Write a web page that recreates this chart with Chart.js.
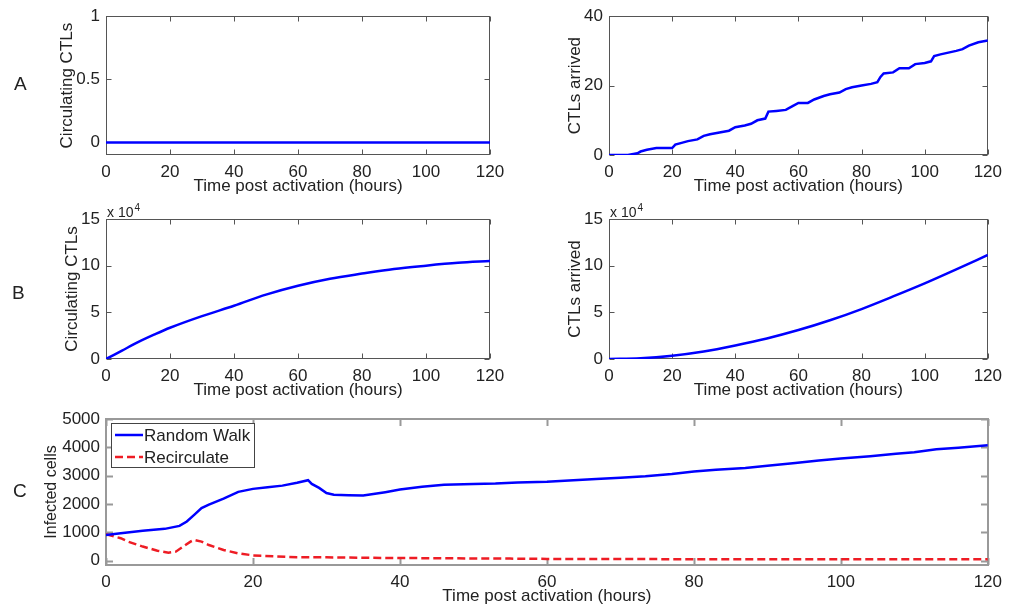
<!DOCTYPE html>
<html>
<head>
<meta charset="utf-8">
<script src="https://cdn.jsdelivr.net/npm/chart.js@4.4.1/dist/chart.umd.min.js"></script>
<style>
body { margin: 0; background: #fff; }
#wrap { position: relative; width: 1009px; height: 605px; font-family: "Liberation Sans", Arial, sans-serif; color: #222; }
#wrap canvas { position: absolute; left: 0; top: 0; }
.panel { position: absolute; font-size: 19px; line-height: 22px; }
</style>
</head>
<body>
<div id="wrap">
  <canvas id="plotA1" width="1009" height="605"></canvas>
  <canvas id="plotA2" width="1009" height="605"></canvas>
  <canvas id="plotB1" width="1009" height="605"></canvas>
  <canvas id="plotB2" width="1009" height="605"></canvas>
  <canvas id="plotC" width="1009" height="605"></canvas>
  <div class="panel" style="left:14px;top:73px">A</div>
  <div class="panel" style="left:12px;top:282px">B</div>
  <div class="panel" style="left:13px;top:480px">C</div>
</div>
<script>
// ---- data ----
var hourTicks = [0, 20, 40, 60, 80, 100, 120];

// A, left: circulating CTLs (stays at zero)
var circA_t = [0, 120];
var circA_v = [0, 0];
var circA_ticks = [0, 0.5, 1];

// A, right: CTLs arrived
var arrA_t = [0, 6, 9, 10, 12, 15, 20, 21, 23, 25, 28, 30, 32, 35, 38, 40, 43, 45, 47, 49.5, 50.5, 53, 56, 58, 60, 63, 65, 68, 70, 73, 75, 77, 80, 83, 85, 86, 87, 90, 92, 95, 97, 100, 102, 103, 105, 110, 112, 114, 117, 120];
var arrA_v = [0, 0, 0.5, 1, 1.5, 2, 2, 3, 3.5, 4, 4.5, 5.5, 6, 6.5, 7, 8, 8.5, 9, 10, 10.5, 12.5, 12.7, 13, 14, 15, 15, 16, 17, 17.5, 18, 19, 19.5, 20, 20.5, 21, 22.5, 23.5, 23.8, 25, 25, 26.2, 26.5, 27, 28.5, 29, 30, 30.5, 31.5, 32.5, 33];
var arrA_ticks = [0, 20, 40];

// B (values in units of 10^4)
var circB_t = [0, 5, 10, 15, 20, 30, 40, 50, 60, 70, 80, 90, 100, 110, 120];
var circB_v = [0, 0.9, 1.8, 2.6, 3.35, 4.6, 5.7, 6.9, 7.85, 8.6, 9.15, 9.65, 10.0, 10.3, 10.5];
var arrB_t = [0, 10, 20, 30, 40, 50, 60, 70, 80, 90, 100, 110, 120];
var arrB_v = [0, 0.08, 0.35, 0.8, 1.45, 2.2, 3.1, 4.15, 5.35, 6.7, 8.1, 9.6, 11.15];
var bTicks = [0, 5, 10, 15];

// C: infected cells
var walk_t = [0, 2, 5, 8, 10, 11, 12, 13, 14, 16, 18, 20, 22, 24, 26, 27.5, 28, 29, 30, 31, 33, 35, 38, 40, 43, 46, 50, 53, 56, 60, 63, 66.7, 70, 73.4, 77, 80, 83, 87, 90, 93.8, 97, 100, 104, 107.5, 110, 113, 116, 120];
var walk_v = [910, 970, 1055, 1125, 1230, 1385, 1620, 1860, 1980, 2190, 2430, 2535, 2595, 2650, 2750, 2840, 2710, 2570, 2390, 2330, 2310, 2300, 2420, 2510, 2610, 2680, 2710, 2725, 2760, 2790, 2830, 2880, 2930, 2980, 3060, 3150, 3210, 3270, 3350, 3450, 3540, 3610, 3690, 3770, 3830, 3930, 3990, 4070];
var recirc_t = [0, 2, 3, 5, 7, 8.5, 9.5, 10.5, 11.5, 12, 13, 14, 16, 18, 20, 23, 26, 30, 35, 40, 45, 50, 55, 60, 70, 80, 90, 100, 110, 120];
var recirc_v = [935, 795, 675, 500, 355, 285, 320, 500, 675, 735, 675, 555, 380, 260, 190, 155, 120, 120, 105, 95, 90, 80, 75, 65, 60, 55, 55, 55, 50, 50];
var cTicks = [0, 1000, 2000, 3000, 4000, 5000];

// ---- helpers ----
function pts(t, v) {
    return t.map(function (x, i) { return { x: x, y: v[i] }; });
}

var FONT = '"Liberation Sans", Arial, sans-serif';

// MATLAB style box with inward ticks
var matlabBox = {
    id: 'matlabBox',
    beforeDatasetsDraw: function (chart, args, opts) {
        var a = chart.chartArea, ctx = chart.ctx;
        var off = opts.width % 2 ? 0.5 : 0;
        var L = Math.round(a.left) + off, R = Math.round(a.right) - off;
        var T = Math.round(a.top) + off, B = Math.round(a.bottom) - off;
        ctx.save();
        ctx.strokeStyle = opts.color;
        ctx.lineWidth = opts.width;
        ctx.strokeRect(L, T, R - L, B - T);
        ctx.beginPath();
        chart.scales.x.ticks.forEach(function (t) {
            var px = Math.round(chart.scales.x.getPixelForValue(t.value)) + 0.5;
            ctx.moveTo(px, B); ctx.lineTo(px, B - opts.tick);
            ctx.moveTo(px, T); ctx.lineTo(px, T + opts.tick);
        });
        chart.scales.y.ticks.forEach(function (t) {
            var py = Math.round(chart.scales.y.getPixelForValue(t.value)) + 0.5;
            ctx.moveTo(L, py); ctx.lineTo(L + opts.tick, py);
            ctx.moveTo(R, py); ctx.lineTo(R - opts.tick, py);
        });
        ctx.stroke();
        if (opts.exponent) {
            ctx.fillStyle = '#222';
            ctx.textBaseline = 'alphabetic';
            ctx.font = '14px ' + FONT;
            ctx.fillText('x 10', a.left + 1, a.top - 2);
            var w = ctx.measureText('x 10').width;
            ctx.font = '10px ' + FONT;
            ctx.fillText(opts.exponent, a.left + 2 + w, a.top - 8);
        }
        ctx.restore();
    }
};

// boxed legend inside the plot (panel C)
var boxLegend = {
    id: 'boxLegend',
    afterDatasetsDraw: function (chart, args, opts) {
        if (!opts.show) return;
        var a = chart.chartArea, ctx = chart.ctx;
        var x = Math.round(a.left + opts.dx), y = Math.round(a.top + opts.dy);
        ctx.save();
        ctx.fillStyle = '#fff';
        ctx.fillRect(x, y, opts.w, opts.h);
        ctx.strokeStyle = '#444';
        ctx.lineWidth = 1;
        ctx.strokeRect(x + 0.5, y + 0.5, opts.w, opts.h);
        ctx.font = '17px ' + FONT;
        ctx.textBaseline = 'middle';
        chart.data.datasets.forEach(function (ds, i) {
            var ly = y + opts.row0 + i * opts.rowH;
            ctx.strokeStyle = ds.borderColor;
            ctx.lineWidth = ds.borderWidth;
            ctx.setLineDash(ds.borderDash || []);
            ctx.beginPath();
            ctx.moveTo(x + 4, ly);
            ctx.lineTo(x + 32, ly);
            ctx.stroke();
            ctx.setLineDash([]);
            ctx.fillStyle = '#222';
            ctx.fillText(ds.label, x + 33, ly + 1);
        });
        ctx.restore();
    }
};

function makePlot(id, area, datasets, y, box, legend) {
    var ctx = document.getElementById(id).getContext('2d');
    return new Chart(ctx, {
        type: 'line',
        data: { datasets: datasets },
        options: {
            responsive: false,
            animation: false,
            events: [],
            layout: {
                padding: { left: 0, top: area.top, right: 1009 - area.right, bottom: 605 - area.bottom - area.xh }
            },
            scales: {
                x: {
                    type: 'linear',
                    min: 0,
                    max: 120,
                    afterBuildTicks: function (s) { s.ticks = hourTicks.map(function (v) { return { value: v }; }); },
                    afterFit: function (s) { s.height = area.xh; },
                    grid: { display: false, drawTicks: false },
                    border: { display: false },
                    ticks: { padding: area.xpad, color: '#222', font: { size: 17, family: FONT }, maxRotation: 0, autoSkip: false,
                             callback: function (v) { return String(v); } },
                    title: { display: true, text: 'Time post activation (hours)', color: '#222',
                             font: { size: 17, family: FONT }, padding: { top: 0, bottom: area.tpad } }
                },
                y: {
                    min: y.min,
                    max: y.max,
                    afterBuildTicks: function (s) { s.ticks = y.ticks.map(function (v) { return { value: v }; }); },
                    afterFit: function (s) { s.width = area.left; },
                    grid: { display: false, drawTicks: false },
                    border: { display: false },
                    ticks: { padding: 6, color: '#222', font: { size: y.fontSize, family: FONT }, autoSkip: false,
                             callback: function (v) { return String(v); } },
                    title: { display: true, text: y.title, color: '#222',
                             font: { size: y.titleSize, family: FONT }, padding: { top: y.titleX - y.titleSize * 0.6, bottom: 0 } }
                }
            },
            plugins: {
                legend: { display: false },
                tooltip: { enabled: false },
                matlabBox: box,
                boxLegend: legend || { show: false }
            }
        },
        plugins: [matlabBox, boxLegend]
    });
}

function blueLine(t, v, mode) {
    return {
        label: 'CTLs',
        data: pts(t, v),
        borderColor: '#0000ff',
        borderWidth: 2.5,
        pointRadius: 0,
        fill: false,
        cubicInterpolationMode: mode || 'default',
        tension: 0
    };
}

var thinBox = { color: '#555', width: 1, tick: 5 };
var expBox = { color: '#555', width: 1, tick: 5, exponent: '4' };

makePlot('plotA1', { left: 106, top: 15, right: 490, bottom: 155, xh: 40, xpad: 7, tpad: -2 },
    [blueLine(circA_t, circA_v)],
    { min: -0.1, max: 1, ticks: circA_ticks, title: 'Circulating CTLs', titleX: 67, fontSize: 17, titleSize: 17 }, thinBox);

makePlot('plotA2', { left: 609, top: 15, right: 993, bottom: 155, xh: 40, xpad: 7, tpad: -2 },
    [blueLine(arrA_t, arrA_v)],
    { min: 0, max: 40, ticks: arrA_ticks, title: 'CTLs arrived', titleX: 575, fontSize: 17, titleSize: 17 }, thinBox);

makePlot('plotB1', { left: 106, top: 219, right: 490, bottom: 359, xh: 40, xpad: 7, tpad: -2 },
    [blueLine(circB_t, circB_v, 'monotone')],
    { min: 0, max: 15, ticks: bTicks, title: 'Circulating CTLs', titleX: 72, fontSize: 17, titleSize: 17 }, expBox);

makePlot('plotB2', { left: 609, top: 219, right: 993, bottom: 359, xh: 40, xpad: 7, tpad: -2 },
    [blueLine(arrB_t, arrB_v, 'monotone')],
    { min: 0, max: 15, ticks: bTicks, title: 'CTLs arrived', titleX: 575, fontSize: 17, titleSize: 17 }, expBox);

makePlot('plotC', { left: 106, top: 419, right: 993, bottom: 565, xh: 40, xpad: 7, tpad: -2 },
    [
        { label: 'Random Walk', data: pts(walk_t, walk_v), borderColor: '#0000ff', borderWidth: 2.5,
          pointRadius: 0, fill: false, tension: 0 },
        { label: 'Recirculate', data: pts(recirc_t, recirc_v), borderColor: '#ee1c24', borderWidth: 2.5,
          borderDash: [8, 4], pointRadius: 0, fill: false, tension: 0 }
    ],
    { min: -150, max: 5000, ticks: cTicks, title: 'Infected cells', titleX: 52, fontSize: 17, titleSize: 16 },
    { color: '#999', width: 2, tick: 7 },
    { show: true, dx: 5, dy: 4, w: 143, h: 44, row0: 12, rowH: 22 });
</script>
</body>
</html>
